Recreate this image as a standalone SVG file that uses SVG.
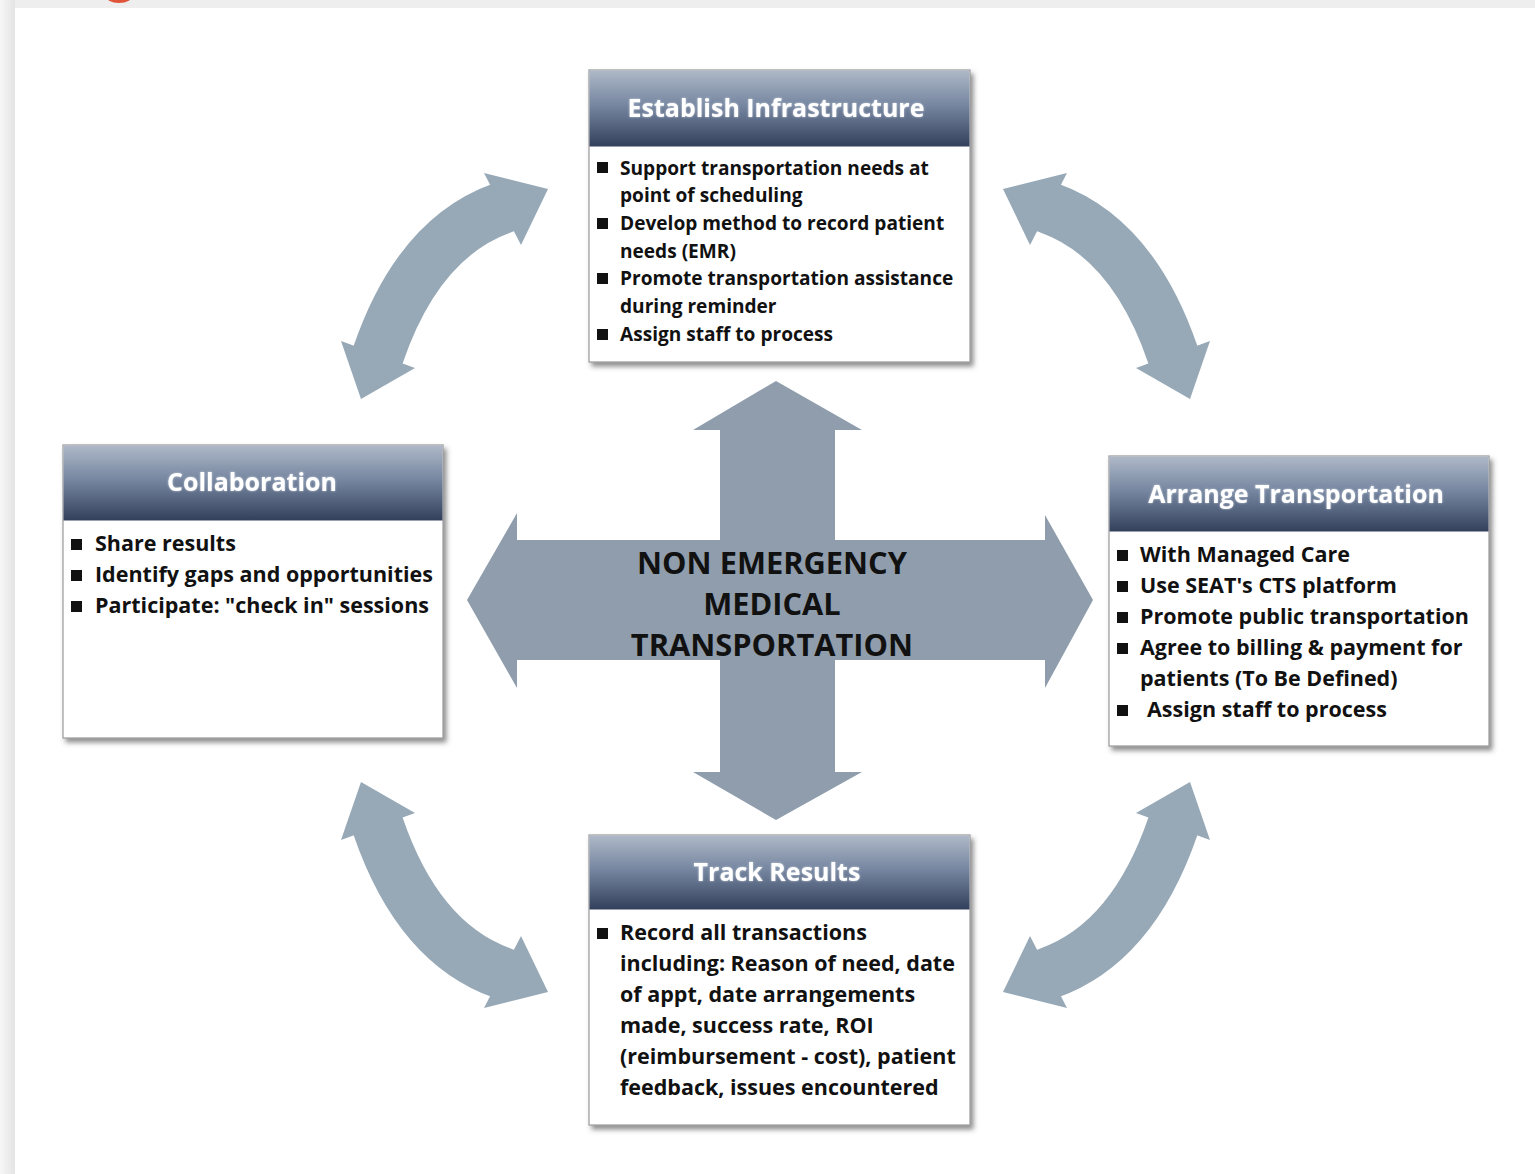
<svg xmlns="http://www.w3.org/2000/svg" xmlns:xlink="http://www.w3.org/1999/xlink" width="1535" height="1174" viewBox="0 0 1535 1174">
<style>
.box{fill:#ffffff;stroke:#9a9a9a;stroke-width:1.2}
.title{font-family:"Open Sans","Noto Sans",sans-serif;font-weight:700;font-size:25px;fill:#ffffff;text-anchor:middle}
.body{font-family:"Open Sans","Noto Sans",sans-serif;font-weight:700;fill:#111111}
.b19{font-size:19.1px}
.b21{font-size:21.5px}
.center{font-family:"Open Sans","Noto Sans",sans-serif;font-weight:700;font-size:30.8px;fill:#111111;text-anchor:middle}
.bul{fill:#111111}
.cross{fill:#8f9dac}
.carrow{fill:#97a9b7}
.cbody{fill:none;stroke:#97a9b7;stroke-width:52}
</style>
<defs>
<linearGradient id="hdr" x1="0" y1="0" x2="0" y2="1">
<stop offset="0" stop-color="#aeb8c7"/>
<stop offset="0.45" stop-color="#7787a1"/>
<stop offset="1" stop-color="#33405c"/>
</linearGradient>
<linearGradient id="lft" x1="0" y1="0" x2="1" y2="0">
<stop offset="0" stop-color="#f7f7f7"/>
<stop offset="1" stop-color="#e4e4e4"/>
</linearGradient>
<filter id="sh" x="-5%" y="-5%" width="115%" height="115%">
<feDropShadow dx="3" dy="4" stdDeviation="2.5" flood-color="#444" flood-opacity="0.6"/>
</filter>
<filter id="glow" x="-5%" y="-20%" width="110%" height="140%">
<feDropShadow dx="0" dy="0" stdDeviation="1.2" flood-color="#dfe6f0" flood-opacity="0.7"/>
</filter>
<g id="carw">
<path class="cbody" d="M374.5,364.4 L378,355 Q418,238 502,208 L511.3,204.3"/>
<polygon class="carrow" points="548,189 484,173 521,245"/>
<polygon class="carrow" points="361,399 341,341 415,368"/>
</g>
</defs>

<rect x="0" y="0" width="1535" height="1174" fill="#eeeeee"/>
<rect x="0" y="0" width="15" height="1174" fill="url(#lft)"/>
<rect x="15" y="8" width="1520" height="1166" fill="#ffffff"/>
<ellipse cx="119" cy="-5" rx="14" ry="8" fill="#e0553a"/>

<g id="connectors">
<polygon class="cross" points="776,381 862,430 835,430 835,540 1045,540 1045,515 1093,600 1045,688 1045,660 835,660 835,772 862,772 776,820 693,772 720,772 720,660 517,660 517,688 467,600 517,513 517,540 720,540 720,430 693,430"/>
<use xlink:href="#carw"/>
<use xlink:href="#carw" transform="translate(1551,0) scale(-1,1)"/>
<use xlink:href="#carw" transform="translate(0,1181) scale(1,-1)"/>
<use xlink:href="#carw" transform="translate(1551,1181) scale(-1,-1)"/>
</g>

<g id="center-label">
<text class="center" x="772" y="574">NON EMERGENCY</text>
<text class="center" x="772" y="615">MEDICAL</text>
<text class="center" x="772" y="656">TRANSPORTATION</text>
</g>

<g id="establish">
<g filter="url(#sh)">
<rect class="box" x="589" y="70" width="381" height="292"/>
</g>
<rect x="589.5" y="70.5" width="380" height="76" fill="url(#hdr)"/>
<text class="title" x="776" y="117" filter="url(#glow)">Establish Infrastructure</text>
<rect class="bul" x="597" y="162" width="11" height="11"/>
<rect class="bul" x="597" y="218" width="11" height="11"/>
<rect class="bul" x="597" y="273" width="11" height="11"/>
<rect class="bul" x="597" y="329" width="11" height="11"/>
<text class="body b19" x="620" y="174.5">Support transportation needs at</text>
<text class="body b19" x="620" y="202.2">point of scheduling</text>
<text class="body b19" x="620" y="229.9">Develop method to record patient</text>
<text class="body b19" x="620" y="257.6">needs (EMR)</text>
<text class="body b19" x="620" y="285.3">Promote transportation assistance</text>
<text class="body b19" x="620" y="313">during reminder</text>
<text class="body b19" x="620" y="340.7">Assign staff to process</text>
</g>

<g id="collaboration">
<g filter="url(#sh)">
<rect class="box" x="63" y="445" width="380" height="293"/>
</g>
<rect x="63.5" y="445.5" width="379" height="75" fill="url(#hdr)"/>
<text class="title" x="252" y="491" filter="url(#glow)">Collaboration</text>
<rect class="bul" x="71" y="539" width="11" height="11"/>
<rect class="bul" x="71" y="570" width="11" height="11"/>
<rect class="bul" x="71" y="601" width="11" height="11"/>
<text class="body b21" x="95" y="551">Share results</text>
<text class="body b21" x="95" y="582">Identify gaps and opportunities</text>
<text class="body b21" x="95" y="613">Participate: "check in" sessions</text>
</g>

<g id="arrange">
<g filter="url(#sh)">
<rect class="box" x="1109" y="456" width="380" height="290"/>
</g>
<rect x="1109.5" y="456.5" width="379" height="75" fill="url(#hdr)"/>
<text class="title" x="1296" y="503" filter="url(#glow)">Arrange Transportation</text>
<rect class="bul" x="1117" y="550" width="11" height="11"/>
<rect class="bul" x="1117" y="581" width="11" height="11"/>
<rect class="bul" x="1117" y="612" width="11" height="11"/>
<rect class="bul" x="1117" y="643" width="11" height="11"/>
<rect class="bul" x="1117" y="705" width="11" height="11"/>
<text class="body b21" x="1140" y="562">With Managed Care</text>
<text class="body b21" x="1140" y="593">Use SEAT's CTS platform</text>
<text class="body b21" x="1140" y="624">Promote public transportation</text>
<text class="body b21" x="1140" y="655">Agree to billing &amp; payment for</text>
<text class="body b21" x="1140" y="686">patients (To Be Defined)</text>
<text class="body b21" x="1147" y="717">Assign staff to process</text>
</g>

<g id="track">
<g filter="url(#sh)">
<rect class="box" x="589" y="835" width="381" height="290"/>
</g>
<rect x="589.5" y="835.5" width="380" height="74" fill="url(#hdr)"/>
<text class="title" x="777" y="881" filter="url(#glow)">Track Results</text>
<rect class="bul" x="597" y="928" width="11" height="11"/>
<text class="body b21" x="620" y="940">Record all transactions</text>
<text class="body b21" x="620" y="971">including: Reason of need, date</text>
<text class="body b21" x="620" y="1002">of appt, date arrangements</text>
<text class="body b21" x="620" y="1033">made, success rate, ROI</text>
<text class="body b21" x="620" y="1064">(reimbursement - cost), patient</text>
<text class="body b21" x="620" y="1095">feedback, issues encountered</text>
</g>
</svg>
